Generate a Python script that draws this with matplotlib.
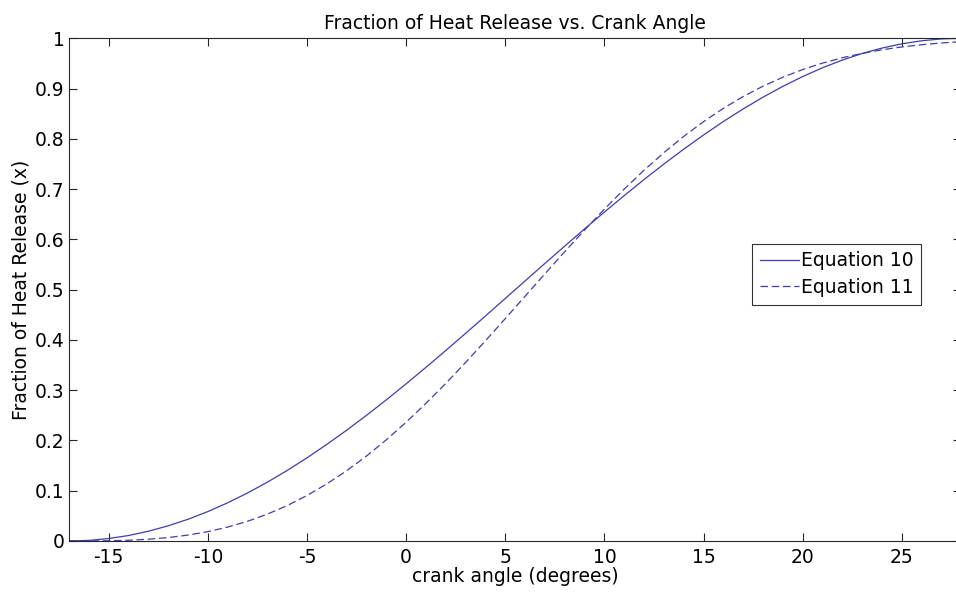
import matplotlib
matplotlib.use("Agg")
import matplotlib.pyplot as plt

plt.rcParams["font.family"] = ["DejaVu Sans"]

# crank angle (degrees) and fraction of heat release
theta = list(range(-17, 29))
eq10 = [0.0, 0.0012, 0.0049, 0.0109, 0.0194, 0.0302, 0.0432, 0.0585, 0.0760, 0.0955,
        0.1170, 0.1403, 0.1654, 0.1922, 0.2204, 0.2500, 0.2808, 0.3127, 0.3455, 0.3790,
        0.4132, 0.4477, 0.4826, 0.5175, 0.5523, 0.5868, 0.6210, 0.6545, 0.6873, 0.7192,
        0.7500, 0.7796, 0.8078, 0.8346, 0.8597, 0.8830, 0.9045, 0.9240, 0.9415, 0.9568,
        0.9699, 0.9806, 0.9891, 0.9951, 0.9988, 1.0]
eq11 = [0.0, 0.0001, 0.0004, 0.0015, 0.0035, 0.0068, 0.0118, 0.0186, 0.0277, 0.0392,
        0.0534, 0.0704, 0.0905, 0.1136, 0.1398, 0.1690, 0.2013, 0.2363, 0.2739, 0.3136,
        0.3553, 0.3984, 0.4425, 0.4871, 0.5316, 0.5757, 0.6188, 0.6604, 0.7002, 0.7377,
        0.7727, 0.8050, 0.8344, 0.8608, 0.8843, 0.9049, 0.9227, 0.9379, 0.9507, 0.9614,
        0.9701, 0.9772, 0.9828, 0.9873, 0.9907, 0.9933]
xticks = [-15, -10, -5, 0, 5, 10, 15, 20, 25]
yticks = [0, 0.1, 0.2, 0.3, 0.4, 0.5, 0.6, 0.7, 0.8, 0.9, 1]
yticklabels = ["0", "0.1", "0.2", "0.3", "0.4", "0.5", "0.6", "0.7", "0.8", "0.9", "1"]

FS = 13.5

fig = plt.figure(figsize=(9.56, 5.93), dpi=100)
fig.patch.set_facecolor("white")
# right edge of the axes sits just past the picture edge, as in the original
ax = fig.add_axes([0.0722, 0.0877, 0.9335, 0.8477])

blue = "#3c3cb8"
ax.plot(theta, eq10, color=blue, lw=0.9, label="Equation 10")
ax.plot(theta, eq11, color=blue, lw=0.9, dashes=(6, 3), label="Equation 11")

ax.set_xlim(-17, 28)
ax.set_ylim(0, 1)
ax.set_xticks(xticks)
ax.set_xticklabels([str(t) for t in xticks])
ax.set_yticks(yticks)
ax.set_yticklabels(yticklabels)
ax.tick_params(direction="in", length=6, width=0.8, top=True, right=True,
               labelsize=FS, colors="#262626", labelcolor="black")
ax.tick_params(axis="x", pad=5)
ax.tick_params(axis="y", pad=3)
for s in ax.spines.values():
    s.set_color("#262626")
    s.set_linewidth(0.8)

ax.set_title("Fraction of Heat Release vs. Crank Angle", fontsize=FS, pad=7)
ax.set_xlabel("crank angle (degrees)", fontsize=FS, labelpad=0)
ax.set_ylabel("Fraction of Heat Release (x)", fontsize=FS, labelpad=3)

leg = ax.legend(loc="upper left", bbox_to_anchor=(752 / 956, 1 - 244 / 593),
                bbox_transform=fig.transFigure, borderaxespad=0, fontsize=FS,
                frameon=True, fancybox=False, handlelength=2.1, handletextpad=0.1,
                borderpad=0.4, labelspacing=0.4)
leg.get_frame().set_edgecolor("black")
leg.get_frame().set_linewidth(0.8)

fig.savefig("out.png", dpi=100, facecolor="white")
